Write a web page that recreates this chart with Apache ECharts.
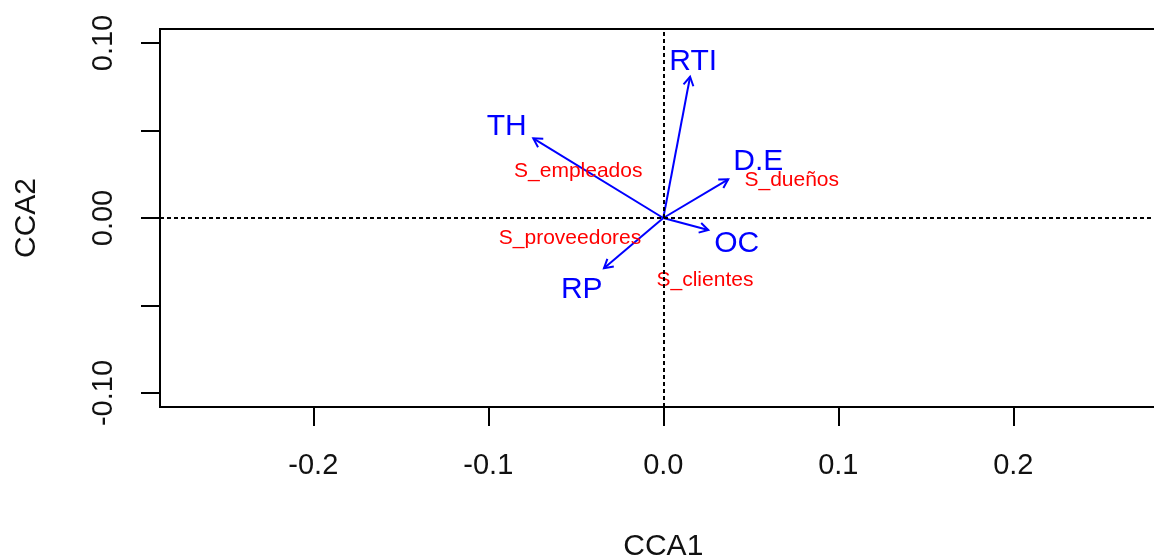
<!DOCTYPE html>
<html>
<head>
<meta charset="utf-8">
<script src="https://cdn.jsdelivr.net/npm/echarts@6/dist/echarts.min.js"></script>
<style>
  html, body { margin: 0; padding: 0; background: #fff; }
  #chart { width: 1154px; height: 558px; }
</style>
</head>
<body>
<div id="chart"></div>
<script>
// CCA biplot: species arrows (blue) and site labels (red)
const speciesNames = ["RTI", "TH", "D.E", "OC", "RP"];
const arrowX = [0.0153, -0.0743, 0.0371, 0.0257, -0.0339];
const arrowY = [0.0807, 0.0455, 0.0221, -0.0069, -0.0287];
const speciesLabelX = [0.0171, -0.0895, 0.0543, 0.0419, -0.0466];
const speciesLabelY = [0.0893, 0.0522, 0.0322, -0.0145, -0.0411];

const siteNames = ["S_empleados", "S_dueños", "S_proveedores", "S_clientes"];
const siteX = [-0.0486, 0.0734, -0.0533, 0.0238];
const siteY = [0.0265, 0.0217, -0.0116, -0.0354];

const xTicks = [-0.2, -0.1, 0.0, 0.1, 0.2];
const yTicks = [-0.1, -0.05, 0.0, 0.05, 0.1];
const yLabels = [-0.1, 0.0, 0.1];

const FONT = '"Liberation Sans", Arial, sans-serif';
const BLUE = "#0000ff";
const RED = "#ff0000";
const INK = "#111";

var myChart = echarts.init(document.getElementById("chart"));

function arrowItem(params, api) {
  var o = api.coord([0, 0]);
  var t = api.coord([api.value(0), api.value(1)]);
  var ang = Math.atan2(t[1] - o[1], t[0] - o[0]);
  var L = 10, a = Math.PI / 6;
  var h1 = [t[0] - L * Math.cos(ang - a), t[1] - L * Math.sin(ang - a)];
  var h2 = [t[0] - L * Math.cos(ang + a), t[1] - L * Math.sin(ang + a)];
  return {
    type: "group",
    children: [
      { type: "line", shape: { x1: o[0], y1: o[1], x2: t[0], y2: t[1] },
        style: { stroke: BLUE, lineWidth: 2 } },
      { type: "polyline", shape: { points: [h1, t, h2] },
        style: { stroke: BLUE, lineWidth: 2, fill: null } },
    ],
  };
}

function textItem(color, size) {
  return function (params, api) {
    var p = api.coord([api.value(0), api.value(1)]);
    return {
      type: "text",
      x: p[0],
      y: p[1],
      style: {
        text: api.value(2),
        fill: color,
        fontSize: size,
        fontFamily: FONT,
        align: "center",
        verticalAlign: "middle",
      },
    };
  };
}

myChart.setOption({
  backgroundColor: "#fff",
  animation: false,
  grid: {
    left: 160,
    top: 29,
    width: 1006.6,
    height: 378,
    outerBoundsMode: "none",
    containLabel: false,
    show: true,
    borderColor: "#000",
    borderWidth: 2,
  },
  xAxis: {
    type: "value",
    min: -0.2876,
    max: 0.2876,
    name: "CCA1",
    nameLocation: "middle",
    nameGap: 125,
    nameTextStyle: { color: INK, fontSize: 30, fontFamily: FONT },
    axisLine: { show: false, onZero: false },
    splitLine: { show: false },
    axisTick: {
      show: true,
      length: 19,
      customValues: xTicks,
      lineStyle: { color: "#000", width: 2 },
    },
    axisLabel: {
      customValues: xTicks,
      margin: 44,
      color: INK,
      fontSize: 29,
      fontFamily: FONT,
      formatter: (v) => v.toFixed(1),
    },
  },
  yAxis: {
    type: "value",
    min: -0.108,
    max: 0.108,
    name: "CCA2",
    nameLocation: "middle",
    nameRotate: 90,
    nameGap: 118,
    nameTextStyle: { color: INK, fontSize: 30, fontFamily: FONT },
    axisLine: { show: false, onZero: false },
    splitLine: { show: false },
    axisTick: {
      show: true,
      length: 19,
      customValues: yTicks,
      lineStyle: { color: "#000", width: 2 },
    },
    axisLabel: {
      customValues: yLabels,
      rotate: 90,
      margin: 42,
      color: INK,
      fontSize: 29,
      fontFamily: FONT,
      formatter: (v) => v.toFixed(2),
    },
  },
  series: [
    {
      type: "scatter",
      data: [],
      silent: true,
      markLine: {
        silent: true,
        symbol: "none",
        label: { show: false },
        lineStyle: { color: "#000", width: 2, type: [4, 3] },
        data: [{ xAxis: 0 }, { yAxis: 0 }],
        animation: false,
      },
      z: 1,
    },
    {
      type: "custom",
      renderItem: arrowItem,
      data: arrowX.map((x, i) => [x, arrowY[i]]),
      z: 3,
    },
    {
      type: "custom",
      renderItem: textItem(BLUE, 30),
      data: speciesLabelX.map((x, i) => [x, speciesLabelY[i], speciesNames[i]]),
      z: 4,
    },
    {
      type: "custom",
      renderItem: textItem(RED, 21),
      data: siteX.map((x, i) => [x, siteY[i], siteNames[i]]),
      z: 4,
    },
  ],
});
</script>
</body>
</html>
